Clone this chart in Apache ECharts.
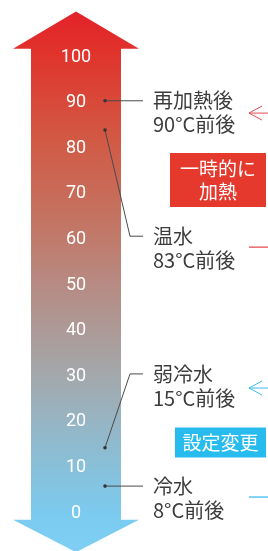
<!DOCTYPE html>
<html>
<head>
<meta charset="utf-8">
<script src="https://cdn.jsdelivr.net/npm/echarts@6/dist/echarts.min.js"></script>
<style>
    html, body { margin: 0; padding: 0; background: #fff; }
    #chart { width: 268px; height: 551px; }
</style>
</head>
<body>
<div id="chart"></div>
<script>
// 温度スケール
const tempMin = 0;
const tempMax = 100;
const tempStep = 10;

// 各モードの点（矢印上の位置）と名前の位置
const modeNames = ['再加熱後', '温水', '弱冷水', '冷水'];
const modeReadings = ['90°C前後', '83°C前後', '15°C前後', '8°C前後'];
const dotTemps = [90.4, 84, 14.3, 5.9];
const labelTemps = [90.4, 60.7, 30.5, 5.9];

// 右側の変更範囲
const changeText = ['一時的に\n加熱', '設定変更'];
const changeTop = [87.7, 27.4];
const changeBottom = [58.3, 3.5];
const changeColor = ['#e5392d', '#28bbee'];
const changeLine = ['#e84b4f', '#3cbcee'];

const font = '"Noto Sans CJK JP", "Noto Sans", sans-serif';

const myChart = echarts.init(document.getElementById('chart'));

myChart.setOption({
    animation: false,
    grid: { left: 0, right: 0, top: 57, bottom: 38 },
    xAxis: { type: 'value', min: 0, max: 268, show: false },
    yAxis: {
        type: 'value',
        min: tempMin,
        max: tempMax,
        interval: tempStep,
        z: 10,
        axisLine: { show: false },
        axisTick: { show: false },
        splitLine: { show: false },
        axisLabel: {
            inside: true,
            margin: 76,
            align: 'center',
            color: '#fff',
            fontSize: 18,
            fontFamily: 'Roboto, "Noto Sans", sans-serif'
        }
    },
    series: [
        {
            // 上下矢印
            type: 'custom',
            z: 1,
            data: [[0, 0]],
            renderItem(params, api) {
                const p = (x, v) => [x, api.coord([0, v])[1]];
                const pts = [
                    p(76, 110), p(139, 101.8), p(121, 101.8), p(121, -1.5), p(139, -1.5),
                    p(76, -8.6), p(13, -1.5), p(31, -1.5), p(31, 101.8), p(13, 101.8)
                ];
                return {
                    type: 'polygon',
                    shape: { points: pts },
                    style: {
                        fill: new echarts.graphic.LinearGradient(0, 0, 0, 1, [
                            { offset: 0, color: '#e3222a' },
                            { offset: 0.08, color: '#e0342c' },
                            { offset: 0.24, color: '#d15a45' },
                            { offset: 0.33, color: '#c96a57' },
                            { offset: 0.42, color: '#c07a6b' },
                            { offset: 0.5, color: '#b78a82' },
                            { offset: 0.59, color: '#ad9a97' },
                            { offset: 0.68, color: '#a2a9ad' },
                            { offset: 0.76, color: '#96b5c4' },
                            { offset: 0.85, color: '#87c1db' },
                            { offset: 0.93, color: '#7bcaef' },
                            { offset: 1, color: '#7fcff5' }
                        ])
                    }
                };
            }
        },
        {
            // 引き出し線とラベル
            type: 'custom',
            z: 5,
            data: dotTemps.map((t, i) => [t, labelTemps[i], i]),
            renderItem(params, api) {
                const i = api.value(2);
                const yDot = api.coord([0, api.value(0)])[1];
                const yLab = api.coord([0, api.value(1)])[1];
                const pts = Math.abs(yDot - yLab) < 1
                    ? [[105, yDot], [143, yDot]]
                    : [[105, yDot], [130, yLab], [143, yLab]];
                return {
                    type: 'group',
                    children: [
                        {
                            type: 'polyline',
                            shape: { points: pts },
                            style: { stroke: '#4a4a4a', lineWidth: 1, fill: null }
                        },
                        {
                            type: 'circle',
                            shape: { cx: 105, cy: yDot, r: 1.8 },
                            style: { fill: '#333' }
                        },
                        {
                            type: 'text',
                            x: 153,
                            y: yLab - 12,
                            style: {
                                text: modeNames[i] + '\n' + modeReadings[i],
                                fill: '#3c3c3c',
                                fontSize: 20,
                                lineHeight: 24,
                                fontFamily: font,
                                verticalAlign: 'top',
                                align: 'left'
                            }
                        }
                    ]
                };
            }
        },
        {
            // 右側の矢印・範囲線・ボックス
            type: 'custom',
            z: 5,
            data: changeTop.map((t, i) => [t, changeBottom[i], i]),
            renderItem(params, api) {
                const i = api.value(2);
                const yTop = api.coord([0, api.value(0)])[1];
                const yBot = api.coord([0, api.value(1)])[1];
                const yMid = (yTop + yBot) / 2;
                const boxH = i === 0 ? 54 : 30;
                const boxX = i === 0 ? 170 : 175;
                return {
                    type: 'group',
                    children: [
                        {
                            type: 'polyline',
                            shape: { points: [[262, yTop - 7], [249, yTop], [262, yTop + 7]] },
                            style: { stroke: changeLine[i], lineWidth: 1, fill: null }
                        },
                        {
                            type: 'line',
                            shape: { x1: 249, y1: yTop, x2: 268, y2: yTop },
                            style: { stroke: changeLine[i], lineWidth: 1 }
                        },
                        {
                            type: 'line',
                            shape: { x1: 249, y1: yBot, x2: 268, y2: yBot },
                            style: { stroke: changeLine[i], lineWidth: 1.5, opacity: 0.85 }
                        },
                        {
                            type: 'rect',
                            shape: { x: boxX, y: yMid - boxH / 2, width: 266 - boxX, height: boxH },
                            style: { fill: changeColor[i] }
                        },
                        {
                            type: 'text',
                            x: (boxX + 266) / 2,
                            y: yMid,
                            style: {
                                text: changeText[i],
                                fill: '#fff',
                                fontSize: 19,
                                lineHeight: 23,
                                fontFamily: font,
                                align: 'center',
                                verticalAlign: 'middle'
                            }
                        }
                    ]
                };
            }
        }
    ]
});
</script>
</body>
</html>
